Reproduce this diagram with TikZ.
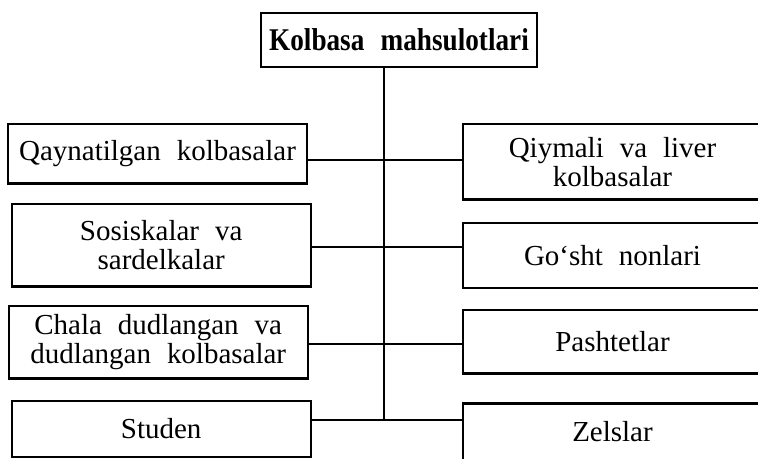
\documentclass[tikz,border=0pt]{standalone}
\usepackage{graphicx}
\usepackage{fontspec}
\setmainfont{Liberation Serif}
\newcommand{\wordgap}{\spaceskip 0.55em\relax}
\newcommand{\narrowbold}[1]{\scalebox{0.86}[1]{\bfseries\spaceskip 0.6em\relax #1}}

\begin{document}
\begin{tikzpicture}[
    x=0.02cm, y=-0.02cm,
    block/.style={draw, line width=1.3pt, inner sep=0pt, align=center, minimum width=5.98cm,
        font=\fontsize{16.5}{16.5}\selectfont\wordgap},
    head/.style={block, minimum width=5.52cm, minimum height=1.08cm,
        font=\fontsize{18}{18}\selectfont},
    link/.style={line width=1.3pt}
]
    \useasboundingbox (0,0) rectangle (758,458);
    \clip (0,0) rectangle (758,458);

    % Blocks
    \node[head] (kolbasa) at (399,40) {\narrowbold{Kolbasa mahsulotlari}};
    \node[block, minimum height=1.19cm] (qaynat) at (157.5,153.7) {Qaynatilgan kolbasalar};
    \node[block, minimum height=1.65cm] (sosiska) at (161.2,245.3) {Sosiskalar va\\sardelkalar};
    \node[block, minimum height=1.45cm] (chala) at (158.2,342.2) {Chala dudlangan va\\dudlangan kolbasalar};
    \node[block, minimum height=1.12cm] (studen) at (161.2,429) {Studen};
    \node[block, minimum height=1.51cm] (qiymali) at (612.5,161.7) {Qiymali va liver\\kolbasalar};
    \node[block, minimum height=1.30cm] (gosht) at (612.5,255.2) {Go‘sht nonlari};
    \node[block, minimum height=1.27cm] (pashtet) at (612.5,341.7) {Pashtetlar};
    \node[block, minimum height=1.13cm] (zels) at (612.5,431.7) {Zelslar};

    % Junctions on the trunk
    \coordinate (j1) at (384,160);
    \coordinate (j2) at (384,246.7);
    \coordinate (j3) at (384,344);
    \coordinate (j4) at (384,420);

    % Trunk
    \draw[link] (kolbasa.south -| j1) -- (j4);

    % Branches
    \draw[link] (qaynat.east |- j1) -- (qiymali.west |- j1);
    \draw[link] (sosiska.east |- j2) -- (gosht.west |- j2);
    \draw[link] (chala.east |- j3) -- (pashtet.west |- j3);
    \draw[link] (studen.east |- j4) -- (zels.west |- j4);
\end{tikzpicture}
\end{document}
